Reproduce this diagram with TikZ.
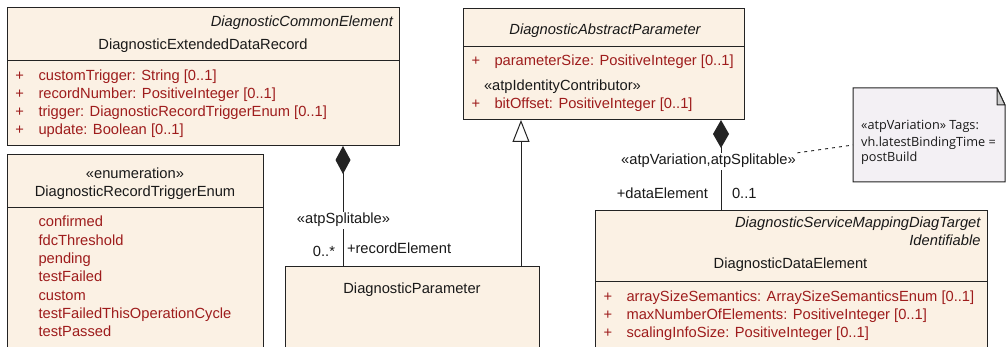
\documentclass[tikz,border=0pt]{standalone}
\usepackage{fontspec}
\setmainfont{Liberation Sans}
\newfontfamily\notefont{Open Sans}
\usetikzlibrary{arrows.meta}
\definecolor{boxfill}{RGB}{251,241,228}
\definecolor{attr}{RGB}{158,28,28}
\definecolor{notefill}{RGB}{243,240,244}
\definecolor{foldfill}{RGB}{205,205,205}
\definecolor{edge}{RGB}{35,35,35}
\definecolor{ink}{RGB}{25,25,25}
\begin{document}
\begin{tikzpicture}[x=1pt,y=-1pt,
  umlbox/.style={draw=edge,line width=1pt,fill=boxfill,anchor=north west,inner sep=0pt,outer sep=0pt},
  txt/.style={inner sep=0pt,outer sep=0pt,anchor=base,text=ink,font=\fontsize{14.7}{18}\selectfont},
  ital/.style={txt,anchor=base east,font=\fontsize{14.7}{18}\selectfont\itshape},
  attrtxt/.style={txt,anchor=base west,text=attr},
  lbl/.style={txt,fill=white,inner sep=1.5pt},
  conn/.style={draw=edge,line width=1pt},
  notetxt/.style={inner sep=0pt,anchor=base west,text=ink,font=\notefont\fontsize{12.7}{16}\selectfont},
]
\useasboundingbox (0,0) rectangle (1006,347);
\clip (0,0) rectangle (1006,347);
\fill[white] (0,0) rectangle (1006,347);

% ---- DiagnosticExtendedDataRecord
\node[umlbox,minimum width=392pt,minimum height=138pt] (rec) at (7,8) {};
\draw[edge,line width=1pt] (7,61) -- (399,61);
\node[ital] (rec-st) at (393,26.7) {DiagnosticCommonElement};
\node[txt] (rec-name) at (203,49.3) {DiagnosticExtendedDataRecord};
\foreach \t [count=\i from 0] in {customTrigger: String [0..1],recordNumber: PositiveInteger [0..1],trigger: DiagnosticRecordTriggerEnum [0..1],update: Boolean [0..1]}{
  \node[attrtxt] (rec-p\i) at (15.5,81+18*\i) {+};
  \node[attrtxt] (rec-a\i) at (38.5,81+18*\i) {\t};
}

% ---- DiagnosticRecordTriggerEnum
\node[umlbox,minimum width=256pt,minimum height=210pt] (enum) at (7,155) {};
\draw[edge,line width=1pt] (7,208) -- (263,208);
\node[txt] (enum-st) at (135,178.3) {«enumeration»};
\node[txt] (enum-name) at (135,196.7) {DiagnosticRecordTriggerEnum};
\foreach \t [count=\i from 0] in {confirmed,fdcThreshold,pending,testFailed,custom,testFailedThisOperationCycle,testPassed}{
  \node[attrtxt] (enum-l\i) at (38.5,226.7+18.33*\i) {\t};
}

% ---- DiagnosticParameter
\node[umlbox,minimum width=254pt,minimum height=100pt] (dp) at (285,267) {};
\node[txt] (dp-name) at (412,294) {DiagnosticParameter};

% ---- DiagnosticAbstractParameter
\node[umlbox,minimum width=281pt,minimum height=111pt] (dap) at (463,9) {};
\draw[edge,line width=1pt] (463,47) -- (744,47);
\node[txt,font=\fontsize{14.7}{18}\selectfont\itshape] (dap-name) at (605,35) {DiagnosticAbstractParameter};
\node[attrtxt] (dap-p0) at (471.5,66) {+};
\node[attrtxt] (dap-a0) at (494.5,66) {parameterSize: PositiveInteger [0..1]};
\node[txt,anchor=base west] (dap-st) at (484,90.7) {«atpIdentityContributor»};
\node[attrtxt] (dap-p1) at (471.5,109) {+};
\node[attrtxt] (dap-a1) at (494.5,109) {bitOffset: PositiveInteger [0..1]};

% ---- DiagnosticDataElement
\node[umlbox,minimum width=392pt,minimum height=160pt] (dde) at (595,211) {};
\draw[edge,line width=1pt] (595,281) -- (987,281);
\node[ital] (dde-st1) at (980.5,227.3) {DiagnosticServiceMappingDiagTarget};
\node[ital] (dde-st2) at (980.5,246) {Identifiable};
\node[txt] (dde-name) at (790.5,269) {DiagnosticDataElement};
\foreach \t [count=\i from 0] in {arraySizeSemantics: ArraySizeSemanticsEnum [0..1],maxNumberOfElements: PositiveInteger [0..1],scalingInfoSize: PositiveInteger [0..1]}{
  \node[attrtxt] (dde-p\i) at (603.5,301.7+17.8*\i) {+};
  \node[attrtxt] (dde-a\i) at (626.5,301.7+17.8*\i) {\t};
}

% ---- Note
\node[inner sep=0pt,outer sep=0pt,minimum width=152pt,minimum height=94pt,anchor=north west] (note) at (853,88) {};
\filldraw[draw=edge,fill=notefill,line width=1pt] (853,88) -- (997,88) -- (1005,105) -- (1005,182) -- (853,182) -- cycle;
\filldraw[draw=edge,fill=foldfill,line width=1pt,line join=round] (997,88) -- (997,105) -- (1005,105) -- cycle;
\node[notetxt] (note-l1) at (861,130) {«atpVariation» Tags:};
\node[notetxt] (note-l2) at (861,146.5) {vh.latestBindingTime =};
\node[notetxt] (note-l3) at (861,162) {postBuild};

% ---- connectors
\coordinate (cx1) at (343,0);
\coordinate (cx2) at (521,0);
\coordinate (cx3) at (721,0);
\draw[conn,-{Diamond[length=28pt,width=15pt]}] (dp.north -| cx1) -- (rec.south -| cx1);
\draw[conn,-{Triangle[length=22pt,width=17pt,fill=white]}] (dp.north -| cx2) -- (dap.south -| cx2);
\draw[conn,-{Diamond[length=28pt,width=16pt]}] (dde.north -| cx3) -- (dap.south -| cx3);

% ---- connector labels
\node[lbl] (l-split) at (343.5,224) {«atpSplitable»};
\node[txt,anchor=base east] (l-mult1) at (335,257) {0..*};
\node[txt,anchor=base west] (l-role1) at (347,254) {+recordElement};
\node[lbl] (l-var) at (708.5,165) {«atpVariation,atpSplitable»};
\node[txt,anchor=base east] (l-role2) at (708,199) {+dataElement};
\node[txt,anchor=base west] (l-mult2) at (732,199) {0..1};

\draw[edge,line width=0.9pt,dash pattern=on 3pt off 4pt] (l-var.north east) -- ([yshift=-10pt]note.west);
\end{tikzpicture}
\end{document}
